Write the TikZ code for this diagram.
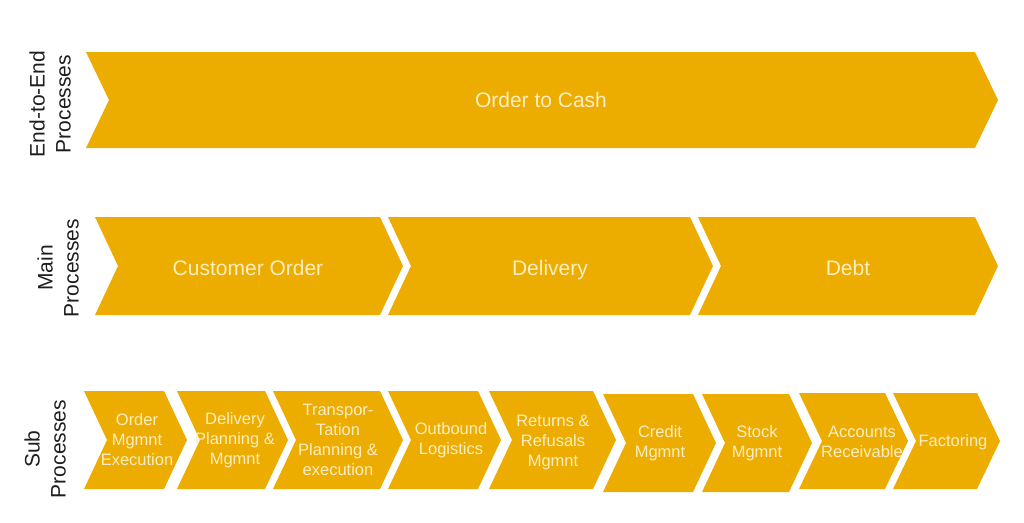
\documentclass[tikz,border=0pt]{standalone}
\usepackage{fontspec}
\setmainfont{Liberation Sans}
\definecolor{gold}{RGB}{237,172,0}
\definecolor{cream}{RGB}{252,238,195}
\definecolor{labelgray}{RGB}{30,30,30}

\begin{document}
\begin{tikzpicture}[
            x=1pt, y=-1pt,
            chev/.style={fill=gold, draw=none},
            bigtext/.style={text=cream, font=\fontsize{21}{25}\selectfont, anchor=base},
            subtext/.style={text=cream, font=\fontsize{16.5}{20}\selectfont, align=center, inner sep=0pt},
            rowlabel/.style={text=labelgray, font=\fontsize{21}{26}\selectfont, align=center, rotate=90}
        ]
        \useasboundingbox (0,0) rectangle (1024,522);
        \def\tipw{23}
        % chevron from left top x to right top x, between top y and bottom y
        \def\chevron#1#2#3#4{\fill[chev] (#1,#3) -- (#2,#3) -- ({#2+\tipw},{(#3+#4)/2}) -- (#2,#4) -- (#1,#4) -- ({#1+\tipw},{(#3+#4)/2}) -- cycle;}

        \chevron{86}{975}{52}{148}
        \node[bigtext] (otc) at (541, 107) {Order to Cash};

        \chevron{95}{380}{217}{315}
        \chevron{388}{690}{217}{315}
        \chevron{698}{975}{217}{315}
        \node[bigtext] (custorder) at (248, 275) {Customer Order};
        \node[bigtext] (delivery) at (550, 275) {Delivery};
        \node[bigtext] (debt) at (848, 275) {Debt};

        \chevron{84}{164}{391}{489}
        \chevron{177}{265}{391}{489}
        \chevron{273}{380}{391}{489}
        \chevron{388}{478}{391}{489}
        \chevron{489}{593}{391}{489}
        \chevron{603}{693}{394}{492}
        \chevron{702}{789}{394}{492}
        \chevron{799}{885}{393}{489}
        \chevron{893}{977}{393}{489}
        \node[subtext] (ordermgmt) at (137, 440) {Order\\Mgmnt\\Execution};
        \node[subtext] (delplan) at (235, 440) {Delivery\\Planning \&\\Mgmnt};
        \node[subtext] (transport) at (338, 440) {Transpor-\\Tation\\Planning \&\\execution};
        \node[subtext] (outbound) at (451, 440) {Outbound\\Logistics};
        \node[subtext] (returns) at (553, 442) {Returns \&\\Refusals\\Mgmnt};
        \node[subtext] (credit) at (660, 443) {Credit\\Mgmnt};
        \node[subtext] (stock) at (757, 443) {Stock\\Mgmnt};
        \node[subtext] (accounts) at (862, 442) {Accounts\\Receivable};
        \node[subtext] (factoring) at (953, 442) {Factoring};

        \node[rowlabel] (lblend) at (50, 104) {End-to-End\\Processes};
        \node[rowlabel] (lblmain) at (58, 268) {Main\\Processes};
        \node[rowlabel] (lblsub) at (45, 449) {Sub\\Processes};
    \end{tikzpicture}
\end{document}
